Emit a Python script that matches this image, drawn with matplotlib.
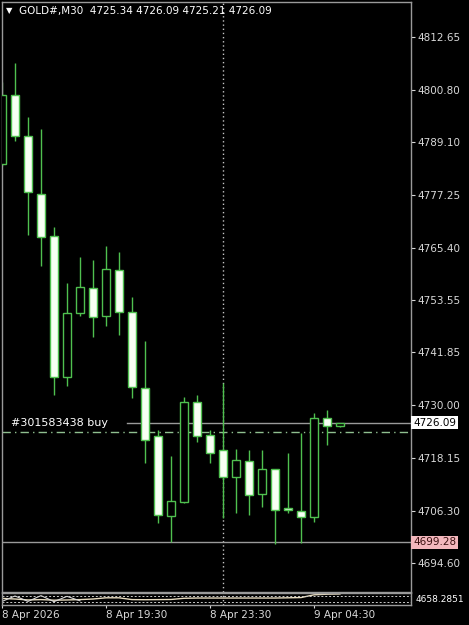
import numpy as np
import matplotlib.pyplot as plt

# M30 candles, GOLD#, 8 Apr 2026 -> 9 Apr 2026 (bar index 0..26)
opens = [4784.15, 4799.63, 4790.43, 4777.41, 4767.99, 4736.34, 4750.71, 4756.32, 4750.03,
         4760.36, 4750.93, 4733.87, 4723.10, 4705.15, 4708.29, 4730.73, 4723.33, 4719.96,
         4713.90, 4717.49, 4710.09, 4715.70, 4706.94, 4706.27, 4704.92, 4727.14, 4725.34]
highs = [4802.55, 4806.81, 4794.70, 4792.00, 4770.01, 4757.44, 4763.28, 4762.60, 4765.74,
         4764.40, 4754.30, 4744.42, 4724.45, 4718.61, 4731.86, 4732.30, 4724.45, 4735.00,
         4720.19, 4719.96, 4719.96, 4715.70, 4719.29, 4723.78, 4728.26, 4728.94, 4726.09]
lows = [4783.70, 4789.31, 4768.21, 4761.26, 4732.30, 4734.32, 4750.03, 4745.32, 4747.79,
        4745.77, 4731.63, 4717.04, 4703.58, 4699.32, 4708.06, 4721.76, 4717.04, 4704.70,
        4705.82, 4705.37, 4707.17, 4698.87, 4705.82, 4699.10, 4703.80, 4721.08, 4725.21]
closes = [4799.63, 4790.43, 4777.86, 4767.76, 4736.34, 4750.71, 4756.54, 4749.81, 4760.58,
          4750.93, 4734.10, 4722.20, 4705.37, 4708.51, 4730.73, 4723.10, 4719.29, 4713.90,
          4717.72, 4709.86, 4715.70, 4706.49, 4706.49, 4704.92, 4727.14, 4725.35, 4726.09]

price_ticks = [4812.65, 4800.80, 4789.10, 4777.25, 4765.40, 4753.55, 4741.85,
               4730.00, 4718.15, 4706.30, 4694.60]
time_pos = [0, 8, 16, 24]
time_labels = ['8 Apr 2026', '8 Apr 19:30', '8 Apr 23:30', '9 Apr 04:30']
separator_bar = 17

bid = 4726.09
order_price = 4724.00
order_label = '#301583438 buy'
level_price = 4699.28

# small indicator window under the chart
ind_main = [0.55, 0.5, 0.42, 0.45, 0.4, 0.42, 0.45, 0.5, 0.6, 0.6, 0.45, 0.44, 0.45, 0.46,
            0.56, 0.58, 0.58, 0.58, 0.58, 0.58, 0.58, 0.58, 0.6, 0.62, 0.85, 0.9, 0.92]
ind_scribble = [0.3, 0.75, 0.3, 0.78, 0.28, 0.72, 0.35]
ind_label = '4658.2851'

header = 'GOLD#,M30  4725.34 4726.09 4725.21 4726.09'

W, H = 469, 625
green = '#4fc04f'
txt = '#d8d8d8'

fig = plt.figure(figsize=(W / 100, H / 100), dpi=100, facecolor='black')

# main chart
ax = fig.add_axes([2 / W, 1 - 592 / H, 409 / W, 590 / H], facecolor='black')
n = len(opens)
x = np.arange(n)
o = np.array(opens); c = np.array(closes)
bear = c < o
ax.vlines(x, lows, highs, color=green, lw=1, zorder=2)
body_lo = np.minimum(o, c)
body_h = np.maximum(np.abs(c - o), 0.35)
ax.bar(x, body_h, bottom=body_lo, width=0.64,
       color=np.where(bear, '#f8fff4', 'black'), edgecolor=green, lw=1, zorder=3)

ax.set_xlim(0, 409 / 13)
ax.set_ylim(4688.09, 4820.50)

ax.axvline(separator_bar, color='#c4c4c4', ls=(0, (1, 2)), lw=1, zorder=1)
ax.plot([9.6, 409 / 13], [bid, bid], color='#9a9a9a', lw=1, zorder=1)
ax.axhline(level_price, color='#9a9a9a', lw=1, zorder=1)
ax.axhline(order_price, color='#8fbf8f', lw=1, ls=(0, (6, 3, 1, 3)), zorder=1)
ax.text(0.7, order_price + 0.9, order_label, color='white', fontsize=8, va='bottom')

ax.yaxis.tick_right()
ax.set_yticks(price_ticks)
ax.set_yticklabels([f'{v:.2f}' for v in price_ticks])
ax.tick_params(axis='y', colors=txt, labelcolor=txt, labelsize=7.5, length=3, pad=1.5)
ax.set_xticks([])
for s in ax.spines.values():
    s.set_color('#9a9a9a')
    s.set_linewidth(1)

# price boxes on the scale
ax.text(1.005, bid, f'{bid:.2f}', transform=ax.get_yaxis_transform(), color='black',
        fontsize=7.5, va='center', ha='left',
        bbox=dict(boxstyle='square,pad=0.15', fc='white', ec='none'))
ax.text(1.005, level_price, f'{level_price:.2f}', transform=ax.get_yaxis_transform(),
        color='#3a1010', fontsize=7.5, va='center', ha='left',
        bbox=dict(boxstyle='square,pad=0.15', fc='#f3b7bd', ec='none'))

fig.text(9 / W, 1 - 11 / H, '\u25bc', color='white', fontsize=6, va='center', ha='center')
fig.text(19 / W, 1 - 11 / H, header, color='white', fontsize=7.5, va='center', ha='left')

# indicator window
ax2 = fig.add_axes([2 / W, 1 - 605 / H, 409 / W, 12 / H], facecolor='black')
ax2.plot(x, ind_main, color='#e8dcc0', lw=1)
ax2.plot(x[:len(ind_scribble)], ind_scribble, color='#d8d8d8', lw=0.8)
ax2.axhline(0.77, color='#c8c8c8', lw=0.7, ls=(0, (2, 2)))
ax2.axhline(0.23, color='#c8c8c8', lw=0.7, ls=(0, (2, 2)))
ax2.axvline(separator_bar, color='#c4c4c4', ls=(0, (1, 2)), lw=1)
ax2.set_xlim(0, 409 / 13)
ax2.set_ylim(0, 1)
ax2.set_yticks([])
ax2.set_xticks(time_pos)
ax2.set_xticklabels(time_labels, ha='left')
ax2.tick_params(axis='x', colors=txt, labelcolor=txt, labelsize=7.5, length=2, pad=1.5)
for s in ax2.spines.values():
    s.set_color('#9a9a9a')
    s.set_linewidth(1)
ax2.text(1.01, 0.5, ind_label, transform=ax2.transAxes, color='white', fontsize=6.5,
         va='center', ha='left')

fig.savefig('out.png', dpi=100, facecolor='black')
